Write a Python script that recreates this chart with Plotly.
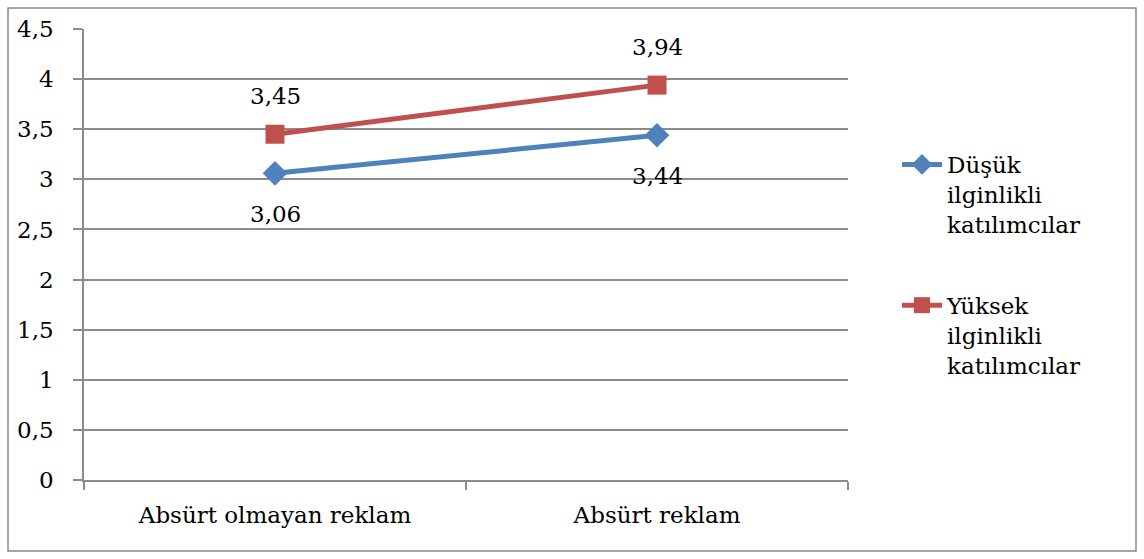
import plotly.graph_objects as go

categories = ["Absürt olmayan reklam", "Absürt reklam"]
series_names = ["Düşük<br>ilginlikli<br>katılımcılar", "Yüksek<br>ilginlikli<br>katılımcılar"]
low_values = [3.06, 3.44]
high_values = [3.45, 3.94]
y_ticks = [0, 0.5, 1, 1.5, 2, 2.5, 3, 3.5, 4, 4.5]

FONT = "DejaVu Serif"
FS = 23
BLUE = "#4F81BD"
RED = "#C0504D"
GRID = "#8C8C8C"

W, H = 1144, 559
ML, MR, MT, MB = 84, 296, 29, 79

fig = go.Figure()
fig.add_trace(go.Scatter(
    x=categories, y=low_values, name=series_names[0], mode="lines+markers",
    line=dict(color=BLUE, width=5),
    marker=dict(symbol="diamond", size=19, color=BLUE),
    legendgroup="a",
))
fig.add_trace(go.Scatter(
    x=categories, y=high_values, name=series_names[1], mode="lines+markers",
    line=dict(color=RED, width=5),
    marker=dict(symbol="square", size=19, color=RED),
    legendgroup="b",
))

def fmt(v):
    return f"{v:.2f}".replace(".", ",")

annotations = []
for c, v in zip(categories, low_values):
    annotations.append(dict(x=c, y=v, text=fmt(v), showarrow=False, yshift=-41,
                            font=dict(family=FONT, size=FS, color="black")))
for c, v in zip(categories, high_values):
    annotations.append(dict(x=c, y=v, text=fmt(v), showarrow=False, yshift=38,
                            font=dict(family=FONT, size=FS, color="black")))

pw = W - ML - MR
ph = H - MT - MB
shapes = [dict(type="rect", xref="paper", yref="paper",
               x0=(8 - ML) / pw, x1=(1136 - ML) / pw,
               y0=(H - MB - 551) / ph, y1=(H - MB - 8) / ph,
               line=dict(color="#888888", width=1.5), fillcolor="rgba(0,0,0,0)", layer="below")]

fig.update_layout(
    width=W, height=H,
    margin=dict(l=ML, r=MR, t=MT, b=MB),
    paper_bgcolor="white", plot_bgcolor="white",
    separators=", ",
    font=dict(family=FONT, size=FS, color="black"),
    annotations=annotations,
    shapes=shapes,
    legend=dict(x=(897 - ML) / pw, xanchor="left", y=(H - MB - 143) / ph, yanchor="top",
                font=dict(family=FONT, size=FS, color="black"), valign="top",
                tracegroupgap=48, itemwidth=40, bgcolor="rgba(0,0,0,0)"),
    xaxis=dict(type="category", showgrid=False, showline=True, linecolor=GRID, linewidth=1.5,
               ticks="outside", ticklen=8, tickcolor=GRID, tickwidth=1.5, tickson="boundaries",
               ticklabelstandoff=14, range=[-0.5, 1.5]),
    yaxis=dict(range=[0, 4.5], tickvals=y_ticks, showgrid=True, gridcolor=GRID, gridwidth=1.5,
               showline=True, linecolor=GRID, linewidth=1.5, zeroline=False,
               ticks="outside", ticklen=9, tickcolor=GRID, tickwidth=1.5,
               ticklabelstandoff=15, tickformat=".1~f"),
)

fig.write_html("out.html")
